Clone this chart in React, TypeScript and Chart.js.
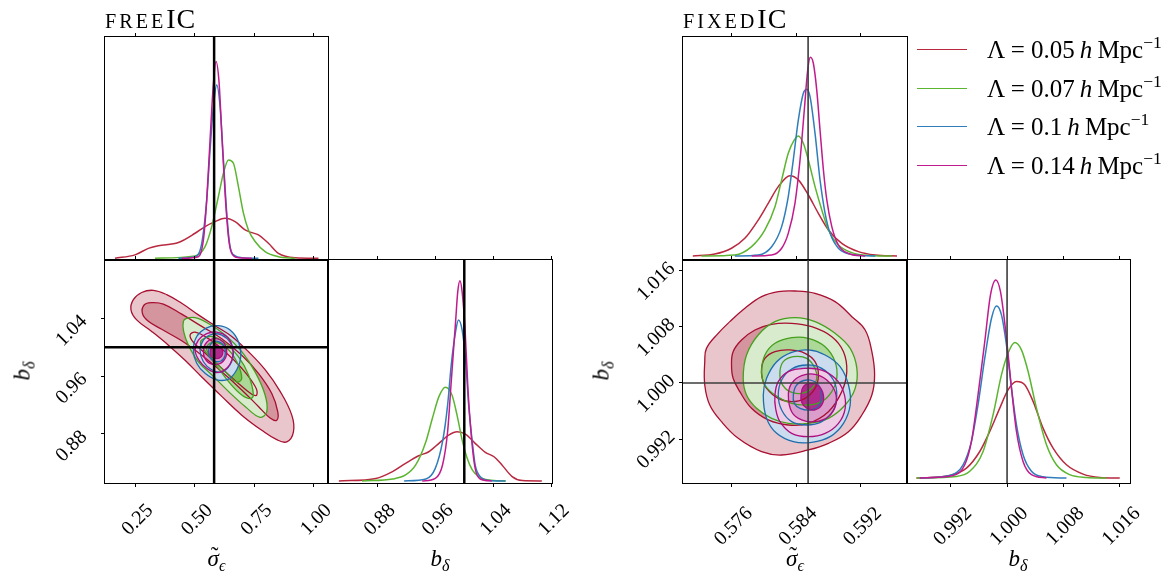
import React, { useEffect, useRef } from 'react';
import { Chart, registerables } from 'chart.js';

Chart.register(...registerables);

type Pt = [number, number];

// ---------------- labels & ticks ----------------
const LAMBDAS = ['0.05', '0.07', '0.1', '0.14'];
const FREE_SIGMA_TICKS = [0.25, 0.5, 0.75, 1.0];
const FREE_B_TICKS_X = [0.88, 0.96, 1.04, 1.12];
const FREE_B_TICKS_Y = [0.88, 0.96, 1.04];
const FIXED_SIGMA_TICKS = [0.576, 0.584, 0.592];
const FIXED_B_TICKS = [0.992, 1.0, 1.008, 1.016];

// axis ranges
const FREE_SIGMA_RANGE: Pt = [0.124, 1.06];
const FREE_B_RANGE: Pt = [0.812, 1.121];
const FIXED_SIGMA_RANGE: Pt = [0.56998, 0.59777];
const FIXED_B_RANGE: Pt = [0.98573, 1.01753];
const FREE_TOP_DENS: Pt = [-0.009, 1.125];
const FREE_RIGHT_DENS: Pt = [-0.01, 1.103];
const FIXED_TOP_DENS: Pt = [-0.02, 1.102];
const FIXED_RIGHT_DENS: Pt = [-0.025, 1.101];

// truth values [sigma, b]
const FREE_TRUTH: Pt = [0.582, 1.0];
const FIXED_TRUTH: Pt = [0.5855, 1.0];

// ---------------- freeIC 1D : sigma ----------------
const freeSigRed: Pt[] = [[0.166,0],[0.25,0.017],[0.306,0.05],[0.348,0.063],[0.432,0.08],[0.502,0.127],[0.544,0.161],[0.586,0.186],[0.628,0.203],[0.670,0.186],[0.712,0.144],[0.740,0.13],[0.768,0.119],[0.810,0.076],[0.852,0.025],[0.922,0.003],[1.02,0]];
const freeSigGreen: Pt[] = [[0.334,0],[0.502,0.012],[0.544,0.059],[0.572,0.161],[0.600,0.314],[0.621,0.432],[0.642,0.5],[0.663,0.483],[0.684,0.364],[0.705,0.229],[0.726,0.144],[0.754,0.085],[0.796,0.034],[0.852,0.008],[0.922,0]];
const freeSigBlue: Pt[] = [[0.432,0],[0.502,0.008],[0.530,0.076],[0.551,0.297],[0.565,0.551],[0.579,0.771],[0.593,0.881],[0.607,0.771],[0.621,0.5],[0.635,0.229],[0.649,0.059],[0.670,0.012],[0.698,0.003],[0.768,0]];
const freeSigMag: Pt[] = [[0.446,0],[0.516,0.008],[0.537,0.093],[0.551,0.297],[0.565,0.602],[0.579,0.89],[0.590,1.0],[0.603,0.89],[0.614,0.636],[0.628,0.331],[0.642,0.11],[0.656,0.025],[0.684,0.003],[0.740,0]];

// ---------------- freeIC 1D : b ----------------
const freeBRed: Pt[] = [[0.827,0],[0.878,0.013],[0.901,0.047],[0.919,0.088],[0.937,0.126],[0.951,0.146],[0.965,0.188],[0.979,0.23],[0.990,0.246],[1.002,0.233],[1.015,0.188],[1.029,0.143],[1.041,0.121],[1.052,0.08],[1.066,0.022],[1.080,0.002],[1.107,0]];
const freeBGreen: Pt[] = [[0.859,0],[0.901,0.01],[0.919,0.03],[0.933,0.08],[0.947,0.196],[0.956,0.313],[0.965,0.421],[0.974,0.468],[0.983,0.429],[0.990,0.329],[0.997,0.205],[1.004,0.113],[1.011,0.055],[1.020,0.022],[1.034,0.005],[1.057,0]];
const freeBBlue: Pt[] = [[0.917,0],[0.947,0.01],[0.960,0.063],[0.970,0.196],[0.977,0.379],[0.982,0.579],[0.988,0.745],[0.992,0.804],[0.997,0.754],[1.002,0.596],[1.006,0.379],[1.011,0.196],[1.015,0.08],[1.022,0.022],[1.034,0.003],[1.057,0]];
const freeBMag: Pt[] = [[0.942,0],[0.960,0.013],[0.970,0.08],[0.977,0.246],[0.982,0.496],[0.988,0.795],[0.991,0.945],[0.994,1.0],[0.997,0.945],[1.001,0.762],[1.005,0.463],[1.010,0.213],[1.015,0.063],[1.022,0.01],[1.038,0]];

// ---------------- fixedIC 1D : sigma ----------------
const fixSigRed: Pt[] = [[0.5712,0],[0.57392,0.01],[0.576,0.039],[0.57765,0.089],[0.57931,0.181],[0.58055,0.265],[0.5818,0.349],[0.58325,0.404],[0.58429,0.383],[0.58553,0.307],[0.58677,0.215],[0.58802,0.131],[0.58968,0.064],[0.59175,0.022],[0.59383,0.005],[0.59653,0]];
const fixSigGreen: Pt[] = [[0.57227,0],[0.57641,0.005],[0.57849,0.047],[0.58014,0.131],[0.58139,0.248],[0.58222,0.383],[0.58304,0.517],[0.58379,0.584],[0.58429,0.604],[0.58491,0.567],[0.58553,0.483],[0.58636,0.349],[0.5872,0.232],[0.58802,0.131],[0.58926,0.055],[0.59093,0.017],[0.593,0.003],[0.5959,0]];
const fixSigBlue: Pt[] = [[0.57641,0],[0.57931,0.005],[0.58098,0.047],[0.58222,0.148],[0.58304,0.299],[0.58366,0.483],[0.58429,0.685],[0.58491,0.819],[0.58533,0.839],[0.58574,0.802],[0.58636,0.617],[0.58698,0.383],[0.58761,0.215],[0.58823,0.114],[0.58926,0.039],[0.59093,0.008],[0.59383,0]];
const fixSigMag: Pt[] = [[0.57849,0],[0.58098,0.005],[0.58222,0.039],[0.58304,0.114],[0.58387,0.265],[0.5845,0.483],[0.58503,0.735],[0.58545,0.936],[0.58578,1.0],[0.58615,0.97],[0.58657,0.836],[0.58698,0.634],[0.5874,0.433],[0.58782,0.282],[0.58844,0.148],[0.58926,0.055],[0.59051,0.013],[0.59258,0]];

// ---------------- fixedIC 1D : b ----------------
const fixBRed: Pt[] = [[0.98708,0],[0.99183,0.013],[0.99421,0.05],[0.99611,0.134],[0.99753,0.235],[0.99896,0.353],[1.00014,0.445],[1.00134,0.487],[1.00252,0.471],[1.00371,0.387],[1.00513,0.252],[1.00656,0.151],[1.00847,0.067],[1.01084,0.02],[1.01322,0.003],[1.01607,0]];
const fixBGreen: Pt[] = [[0.98708,0],[0.99278,0.008],[0.99468,0.034],[0.99658,0.134],[0.998,0.319],[0.9992,0.521],[1.00014,0.63],[1.0011,0.684],[1.00205,0.647],[1.003,0.538],[1.00419,0.353],[1.00562,0.168],[1.00704,0.067],[1.00894,0.017],[1.01132,0.003],[1.01417,0]];
const fixBBlue: Pt[] = [[0.98755,0],[0.99183,0.013],[0.99373,0.067],[0.99492,0.185],[0.99586,0.37],[0.99682,0.605],[0.99778,0.807],[0.99849,0.869],[0.9992,0.824],[0.99991,0.672],[1.00063,0.454],[1.00134,0.269],[1.00228,0.118],[1.00348,0.034],[1.00513,0.007],[1.00847,0]];
const fixBMag: Pt[] = [[0.98755,0],[0.9923,0.013],[0.99397,0.067],[0.99492,0.185],[0.99586,0.42],[0.99682,0.689],[0.99763,0.924],[0.99839,1.0],[0.99906,0.941],[0.99981,0.739],[1.00063,0.454],[1.00134,0.235],[1.00228,0.084],[1.00348,0.017],[1.00562,0]];

// ---------------- freeIC 2D contours [sigma, b] (outer, middle, inner) ----------------
const freeRed3: Pt[] = [[0.233,1.052],[0.243,1.066],[0.278,1.076],[0.327,1.079],[0.383,1.073],[0.446,1.061],[0.516,1.045],[0.586,1.030],[0.656,1.015],[0.726,0.994],[0.796,0.969],[0.859,0.939],[0.908,0.906],[0.915,0.883],[0.887,0.869],[0.845,0.872],[0.782,0.885],[0.698,0.906],[0.614,0.932],[0.530,0.959],[0.460,0.982],[0.390,1.003],[0.320,1.022],[0.257,1.038]];
const freeRed2: Pt[] = [[0.281,1.047],[0.289,1.059],[0.320,1.062],[0.369,1.060],[0.446,1.046],[0.530,1.029],[0.614,1.012],[0.698,0.989],[0.768,0.964],[0.824,0.936],[0.849,0.911],[0.845,0.899],[0.817,0.902],[0.768,0.918],[0.698,0.941],[0.614,0.966],[0.530,0.989],[0.446,1.009],[0.362,1.025],[0.306,1.036]];
const freeRed1: Pt[] = [[0.481,1.017],[0.502,1.021],[0.558,1.012],[0.628,0.994],[0.698,0.971],[0.754,0.946],[0.761,0.934],[0.740,0.935],[0.684,0.950],[0.614,0.971],[0.544,0.992],[0.495,1.007]];
const freeGreen3: Pt[] = [[0.453,1.036],[0.467,1.040],[0.502,1.041],[0.558,1.033],[0.628,1.017],[0.698,0.994],[0.754,0.966],[0.796,0.934],[0.803,0.911],[0.775,0.903],[0.712,0.918],[0.642,0.939],[0.572,0.962],[0.516,0.980],[0.474,1.003],[0.454,1.022]];
const freeGreen2: Pt[] = [[0.530,1.010],[0.572,1.015],[0.628,1.006],[0.684,0.987],[0.726,0.962],[0.747,0.934],[0.733,0.929],[0.698,0.934],[0.649,0.950],[0.600,0.971],[0.551,0.992],[0.527,1.003]];
const freeGreen1: Pt[] = [[0.551,1.001],[0.586,1.007],[0.635,0.999],[0.677,0.980],[0.698,0.957],[0.677,0.952],[0.635,0.964],[0.586,0.980],[0.558,0.992]];
const freeBlue3: Pt[] = [[0.495,0.996],[0.509,1.015],[0.551,1.027],[0.600,1.030],[0.649,1.024],[0.684,1.008],[0.694,0.987],[0.677,0.969],[0.642,0.956],[0.593,0.955],[0.544,0.964],[0.509,0.978]];
const freeBlue2: Pt[] = [[0.523,0.996],[0.537,1.010],[0.572,1.018],[0.614,1.017],[0.649,1.007],[0.663,0.992],[0.649,0.976],[0.614,0.966],[0.572,0.969],[0.537,0.980]];
const freeBlue1: Pt[] = [[0.558,0.994],[0.572,1.006],[0.600,1.008],[0.625,1.001],[0.628,0.989],[0.611,0.981],[0.583,0.981],[0.562,0.987]];
const freeMag3: Pt[] = [[0.502,0.996],[0.516,1.010],[0.551,1.019],[0.593,1.021],[0.635,1.015],[0.659,1.001],[0.659,0.985],[0.635,0.971],[0.593,0.965],[0.551,0.971],[0.519,0.982]];
const freeMag2: Pt[] = [[0.537,0.994],[0.551,1.007],[0.586,1.012],[0.621,1.007],[0.635,0.994],[0.621,0.981],[0.586,0.976],[0.551,0.981]];
const freeMag1: Pt[] = [[0.565,0.994],[0.575,1.001],[0.597,1.002],[0.614,0.998],[0.617,0.990],[0.603,0.985],[0.581,0.985],[0.568,0.988]];

// ---------------- fixedIC 2D contours [sigma, b] ----------------
const fixRed3: Pt[] = [[0.57268,1.00303],[0.57289,1.00493],[0.57434,1.00707],[0.57579,1.00874],[0.57766,1.01064],[0.57973,1.0123],[0.5818,1.01301],[0.58388,1.01311],[0.58636,1.01278],[0.58885,1.01159],[0.59093,1.00945],[0.59258,1.00755],[0.59341,1.00446],[0.59375,1.00113],[0.59341,0.99828],[0.59217,0.99543],[0.59051,0.99305],[0.58802,0.99139],[0.58553,0.99044],[0.58222,0.98972],[0.57973,0.9902],[0.57683,0.9921],[0.57475,0.99448],[0.5733,0.99685],[0.57268,0.99971]];
const fixRed2: Pt[] = [[0.576,1.00256],[0.5762,1.00446],[0.57724,1.00612],[0.5789,1.00755],[0.58097,1.00836],[0.58346,1.0085],[0.58595,1.00802],[0.58844,1.0066],[0.58989,1.00446],[0.5903,1.00161],[0.58968,0.99876],[0.58802,0.9959],[0.58553,0.99424],[0.58305,0.994],[0.58056,0.99472],[0.57848,0.99638],[0.57703,0.99876],[0.5762,1.00066]];
const fixRed1: Pt[] = [[0.57973,1.00208],[0.58014,1.00351],[0.58139,1.00446],[0.58325,1.0047],[0.58512,1.00422],[0.58636,1.00303],[0.58678,1.00113],[0.58636,0.99923],[0.58512,0.9978],[0.58346,0.99733],[0.5818,0.9978],[0.58035,0.99923],[0.57981,1.00066]];
const fixGreen3: Pt[] = [[0.57745,1.00066],[0.57786,1.00398],[0.57931,1.00684],[0.58139,1.00874],[0.58388,1.00931],[0.58636,1.00874],[0.58885,1.00707],[0.59072,1.00493],[0.59155,1.00208],[0.59134,0.99923],[0.5901,0.99685],[0.58802,0.99495],[0.58553,0.99424],[0.58305,0.99424],[0.58097,0.99495],[0.57911,0.99638],[0.57786,0.99828]];
const fixGreen2: Pt[] = [[0.57973,1.00161],[0.58014,1.00398],[0.58139,1.00565],[0.58346,1.00646],[0.58553,1.00636],[0.58761,1.00517],[0.58885,1.00303],[0.58906,1.00066],[0.58844,0.99876],[0.58719,0.99733],[0.58553,0.99685],[0.58346,0.99709],[0.58139,0.99828],[0.58014,0.99971]];
const fixGreen1: Pt[] = [[0.58201,1.00161],[0.58242,1.00303],[0.58367,1.00375],[0.58533,1.00351],[0.58636,1.00208],[0.58657,1.00066],[0.58595,0.99923],[0.5847,0.99852],[0.58325,0.99876],[0.58222,0.99994]];
const fixBlue3: Pt[] = [[0.57994,0.99828],[0.58035,1.00066],[0.5816,1.00303],[0.58346,1.00436],[0.58553,1.0047],[0.58761,1.00398],[0.58947,1.00232],[0.59051,0.99971],[0.59072,0.99685],[0.58989,0.99424],[0.58823,0.99234],[0.58595,0.99153],[0.58367,0.99163],[0.5816,0.99281],[0.58035,0.99495]];
const fixBlue2: Pt[] = [[0.5818,0.99828],[0.58222,1.00042],[0.58346,1.00199],[0.58533,1.00256],[0.58719,1.00208],[0.58864,1.00042],[0.58906,0.99828],[0.58864,0.99614],[0.58719,0.99448],[0.58533,0.994],[0.58346,0.99448],[0.58222,0.99614]];
const fixBlue1: Pt[] = [[0.58367,0.99828],[0.58408,0.99971],[0.58533,1.00042],[0.58657,0.99994],[0.58719,0.99852],[0.58686,0.99685],[0.58574,0.99614],[0.5845,0.99638],[0.58379,0.99709]];
const fixMag3: Pt[] = [[0.58139,0.99828],[0.5818,1.00018],[0.58305,1.00161],[0.58512,1.00208],[0.58719,1.00184],[0.58885,1.00066],[0.58989,0.99876],[0.5901,0.99638],[0.58927,0.99424],[0.58761,0.99281],[0.58553,0.99234],[0.58346,0.99281],[0.58201,0.99448],[0.58147,0.99638]];
const fixMag2: Pt[] = [[0.58305,0.99828],[0.58346,0.99994],[0.5847,1.00104],[0.58636,1.00123],[0.58782,1.00042],[0.58885,0.99876],[0.58893,0.99685],[0.58802,0.99519],[0.58636,0.99448],[0.5847,0.99472],[0.58346,0.9959]];
const fixMag1: Pt[] = [[0.58462,0.99828],[0.58491,0.99947],[0.58574,0.99994],[0.58678,0.99961],[0.5874,0.99828],[0.58719,0.99685],[0.58628,0.99614],[0.58533,0.99638],[0.5847,0.99724]];

// ---------------- styles ----------------
const W = 1176;
const H = 577;
const SERIF = "'Liberation Serif', 'DejaVu Serif', serif";
const LINE_COLORS = ['#b8293f', '#5cb531', '#2f7dbb', '#c01b8e'];
const EDGE_COLORS = ['#a80f30', '#46a01e', '#1f6cad', '#ad0f80'];
const FILL_COLORS = [
  ['#e8c6cc', '#d5959f', '#c46c7c'],
  ['#d8ebcd', '#acd898', '#7cc05a'],
  ['#cadced', '#9dc0df', '#6fa1cf'],
  ['#efcce5', '#db9dcb', '#b02a8d'],
];
const TICK_FONT = { family: SERIF, size: 20 };
const X_AXIS_BOX = 90;
const Y_AXIS_BOX = 100;

type Rect = { l: number; t: number; r: number; b: number };
type AxisStyle = { pad: number; offset: number };

const toXY = (pts: Pt[]) => pts.map(([x, y]) => ({ x, y }));

function curveSets(curves: Pt[][]) {
  return curves.map((c, i) => ({
    data: toXY(c),
    borderColor: LINE_COLORS[i],
    borderWidth: 1.5,
    pointRadius: 0,
    fill: false,
    cubicInterpolationMode: 'monotone',
    order: 20 - i,
  }));
}

function contourSets(groups: Pt[][][]) {
  const out: any[] = [];
  groups.forEach((levels, c) => {
    levels.forEach((pts, l) => {
      out.push({
        data: toXY(pts), closed: true, fill: 'shape', backgroundColor: FILL_COLORS[c][l],
        borderWidth: 0, pointRadius: 0, tension: 0.4, order: 1000 - (c * 3 + l),
      });
    });
  });
  groups.forEach((levels, c) => {
    levels.forEach((pts, l) => {
      out.push({
        data: toXY(pts), closed: true, fill: false, borderColor: EDGE_COLORS[c],
        borderWidth: 1.3, pointRadius: 0, tension: 0.4, order: 100 - (c * 3 + l),
      });
    });
  });
  return out;
}

function vLine(x: number, yr: Pt, color: string, w: number) {
  return { data: [{ x, y: yr[0] }, { x, y: yr[1] }], borderColor: color, borderWidth: w, pointRadius: 0, fill: false, tension: 0, order: 0 };
}
function hLine(y: number, xr: Pt, color: string, w: number) {
  return { data: [{ x: xr[0], y }, { x: xr[1], y }], borderColor: color, borderWidth: w, pointRadius: 0, fill: false, tension: 0, order: 0 };
}

interface PanelSpec {
  rect: Rect;
  xRange: Pt; yRange: Pt;
  xTicks: number[]; xDec: number; xLabels: boolean; xStyle: AxisStyle;
  yTicks?: number[]; yDec?: number; yStyle?: AxisStyle;
  datasets: any[];
}

const FREE_TRUTH_STYLE = { color: '#000', width: 2.5 };
const FIXED_TRUTH_STYLE = { color: '#3c3c3c', width: 1.6 };
const FREE_X_STYLE = { pad: 12, offset: 15 };
const FIXED_X_STYLE = { pad: 15, offset: 18 };
const FREE_Y_STYLE = { pad: 17, offset: 0 };
const FIXED_Y_STYLE = { pad: 7, offset: -5 };

const PANELS: PanelSpec[] = [
  {
    rect: { l: 105, t: 37, r: 328, b: 260 }, xRange: FREE_SIGMA_RANGE, yRange: FREE_TOP_DENS,
    xTicks: FREE_SIGMA_TICKS, xDec: 2, xLabels: false, xStyle: FREE_X_STYLE,
    datasets: [...curveSets([freeSigRed, freeSigGreen, freeSigBlue, freeSigMag]), vLine(FREE_TRUTH[0], FREE_TOP_DENS, FREE_TRUTH_STYLE.color, FREE_TRUTH_STYLE.width)],
  },
  {
    rect: { l: 105, t: 260, r: 328, b: 483 }, xRange: FREE_SIGMA_RANGE, yRange: FREE_B_RANGE,
    xTicks: FREE_SIGMA_TICKS, xDec: 2, xLabels: true, xStyle: FREE_X_STYLE,
    yTicks: FREE_B_TICKS_Y, yDec: 2, yStyle: FREE_Y_STYLE,
    datasets: [
      ...contourSets([[freeRed3, freeRed2, freeRed1], [freeGreen3, freeGreen2, freeGreen1], [freeBlue3, freeBlue2, freeBlue1], [freeMag3, freeMag2, freeMag1]]),
      vLine(FREE_TRUTH[0], FREE_B_RANGE, FREE_TRUTH_STYLE.color, FREE_TRUTH_STYLE.width),
      hLine(FREE_TRUTH[1], FREE_SIGMA_RANGE, FREE_TRUTH_STYLE.color, FREE_TRUTH_STYLE.width),
    ],
  },
  {
    rect: { l: 328, t: 260, r: 552, b: 483 }, xRange: FREE_B_RANGE, yRange: FREE_RIGHT_DENS,
    xTicks: FREE_B_TICKS_X, xDec: 2, xLabels: true, xStyle: FREE_X_STYLE,
    datasets: [...curveSets([freeBRed, freeBGreen, freeBBlue, freeBMag]), vLine(FREE_TRUTH[1], FREE_RIGHT_DENS, FREE_TRUTH_STYLE.color, FREE_TRUTH_STYLE.width)],
  },
  {
    rect: { l: 683, t: 37, r: 907, b: 260 }, xRange: FIXED_SIGMA_RANGE, yRange: FIXED_TOP_DENS,
    xTicks: FIXED_SIGMA_TICKS, xDec: 3, xLabels: false, xStyle: FIXED_X_STYLE,
    datasets: [...curveSets([fixSigRed, fixSigGreen, fixSigBlue, fixSigMag]), vLine(FIXED_TRUTH[0], FIXED_TOP_DENS, FIXED_TRUTH_STYLE.color, FIXED_TRUTH_STYLE.width)],
  },
  {
    rect: { l: 683, t: 260, r: 907, b: 483 }, xRange: FIXED_SIGMA_RANGE, yRange: FIXED_B_RANGE,
    xTicks: FIXED_SIGMA_TICKS, xDec: 3, xLabels: true, xStyle: FIXED_X_STYLE,
    yTicks: FIXED_B_TICKS, yDec: 3, yStyle: FIXED_Y_STYLE,
    datasets: [
      ...contourSets([[fixRed3, fixRed2, fixRed1], [fixGreen3, fixGreen2, fixGreen1], [fixBlue3, fixBlue2, fixBlue1], [fixMag3, fixMag2, fixMag1]]),
      vLine(FIXED_TRUTH[0], FIXED_B_RANGE, FIXED_TRUTH_STYLE.color, FIXED_TRUTH_STYLE.width),
      hLine(FIXED_TRUTH[1], FIXED_SIGMA_RANGE, FIXED_TRUTH_STYLE.color, FIXED_TRUTH_STYLE.width),
    ],
  },
  {
    rect: { l: 907, t: 260, r: 1130, b: 483 }, xRange: FIXED_B_RANGE, yRange: FIXED_RIGHT_DENS,
    xTicks: FIXED_B_TICKS, xDec: 3, xLabels: true, xStyle: FIXED_X_STYLE,
    datasets: [...curveSets([fixBRed, fixBGreen, fixBBlue, fixBMag]), vLine(FIXED_TRUTH[1], FIXED_RIGHT_DENS, FIXED_TRUTH_STYLE.color, FIXED_TRUTH_STYLE.width)],
  },
];

// make closed contour lines loop smoothly
const closeLoopPlugin = {
  id: 'closeLoop',
  afterDatasetsUpdate(chart: any) {
    chart.data.datasets.forEach((ds: any, i: number) => {
      if (!ds.closed) return;
      const line = chart.getDatasetMeta(i).dataset;
      if (line) {
        line._loop = true;
        line._fullLoop = true;
        line._segments = undefined;
        line._path = undefined;
        line._pointsUpdated = false;
      }
    });
  },
};

const framePlugin = {
  id: 'frame',
  afterDatasetsDraw(chart: any) {
    const { ctx, chartArea: a } = chart;
    ctx.save();
    ctx.strokeStyle = '#000';
    ctx.lineWidth = 1;
    ctx.strokeRect(Math.round(a.left) - 0.5, Math.round(a.top) - 0.5, Math.round(a.right - a.left) + 1, Math.round(a.bottom - a.top) + 1);
    ctx.restore();
  },
};

const gridTicks = { drawOnChartArea: false, drawTicks: true, tickLength: 4, tickColor: '#000', tickWidth: 1 };

function buildConfig(p: PanelSpec): any {
  const setTicks = (vals: number[]) => (s: any) => { s.ticks = vals.map((v) => ({ value: v })); };
  const xBox = p.xLabels ? X_AXIS_BOX : 0;
  const yBox = p.yTicks ? Y_AXIS_BOX : 0;
  const scales: any = {
    x: {
      type: 'linear', position: 'bottom', min: p.xRange[0], max: p.xRange[1],
      display: p.xLabels,
      afterBuildTicks: setTicks(p.xTicks),
      afterFit: (s: any) => { s.height = xBox; },
      grid: gridTicks,
      border: { display: false },
      ticks: {
        autoSkip: false, minRotation: 45, maxRotation: 45, padding: p.xStyle.pad, labelOffset: p.xStyle.offset,
        color: '#000', font: TICK_FONT, callback: (v: any) => Number(v).toFixed(p.xDec),
      },
    },
    xTop: {
      axis: 'x', type: 'linear', position: 'top', min: p.xRange[0], max: p.xRange[1],
      afterBuildTicks: setTicks(p.xTicks),
      afterFit: (s: any) => { s.height = 0; },
      grid: gridTicks,
      border: { display: false },
      ticks: { display: false, autoSkip: false },
    },
  };
  if (p.yTicks) {
    scales.y = {
      type: 'linear', position: 'left', min: p.yRange[0], max: p.yRange[1],
      afterBuildTicks: setTicks(p.yTicks),
      afterFit: (s: any) => { s.width = yBox; },
      grid: gridTicks,
      border: { display: false },
      ticks: {
        autoSkip: false, minRotation: 45, maxRotation: 45, padding: p.yStyle!.pad, labelOffset: p.yStyle!.offset,
        color: '#000', font: TICK_FONT, callback: (v: any) => Number(v).toFixed(p.yDec!),
      },
    };
  } else {
    scales.y = { type: 'linear', display: false, min: p.yRange[0], max: p.yRange[1] };
  }
  return {
    type: 'line',
    data: { datasets: p.datasets },
    options: {
      responsive: false,
      animation: false,
      devicePixelRatio: 1,
      events: [],
      layout: { padding: { left: p.rect.l - yBox, top: p.rect.t, right: W - p.rect.r, bottom: H - p.rect.b - xBox } },
      plugins: { legend: { display: false }, tooltip: { enabled: false }, title: { display: false } },
      scales,
    },
    plugins: [closeLoopPlugin, framePlugin],
  };
}

function Panel({ spec }: { spec: PanelSpec }) {
  const ref = useRef<HTMLCanvasElement>(null);
  useEffect(() => {
    const chart = new Chart(ref.current as HTMLCanvasElement, buildConfig(spec));
    return () => chart.destroy();
  }, [spec]);
  return <canvas ref={ref} width={W} height={H} style={{ position: 'absolute', left: 0, top: 0, width: W, height: H, pointerEvents: 'none' }} />;
}

const subStyle: React.CSSProperties = { fontSize: '0.7em', position: 'relative', top: '0.3em', fontStyle: 'italic' };

function BDelta() {
  return (
    <span>
      <i>b</i>
      <span style={subStyle}>δ</span>
    </span>
  );
}

function SigmaEps() {
  return (
    <span>
      <span style={{ position: 'relative', display: 'inline-block', fontStyle: 'italic' }}>
        σ
        <span style={{ position: 'absolute', left: '0.14em', top: '-0.12em', fontStyle: 'normal' }}>˜</span>
      </span>
      <span style={subStyle}>ϵ</span>
    </span>
  );
}

const textBase: React.CSSProperties = { position: 'absolute', fontFamily: SERIF, color: '#000', lineHeight: 1, whiteSpace: 'nowrap' };

function Title({ left, sc }: { left: number; sc: string }) {
  return (
    <div style={{ ...textBase, left, top: 5, fontSize: 28 }}>
      <span style={{ fontSize: '0.72em', letterSpacing: 3 }}>{sc}</span>
      <span style={{ letterSpacing: 1 }}>IC</span>
    </div>
  );
}

export default function App() {
  return (
    <div style={{ position: 'absolute', left: 0, top: 0, width: W, height: H, background: '#fff', overflow: 'hidden' }}>
      {PANELS.map((p, i) => <Panel key={i} spec={p} />)}

      <Title left={105} sc="FREE" />
      <Title left={683} sc="FIXED" />

      <div style={{ ...textBase, left: 216.5, top: 547, fontSize: 23, transform: 'translateX(-50%)' }}><SigmaEps /></div>
      <div style={{ ...textBase, left: 440, top: 547, fontSize: 23, transform: 'translateX(-50%)' }}><BDelta /></div>
      <div style={{ ...textBase, left: 795, top: 547, fontSize: 23, transform: 'translateX(-50%)' }}><SigmaEps /></div>
      <div style={{ ...textBase, left: 1018, top: 547, fontSize: 23, transform: 'translateX(-50%)' }}><BDelta /></div>

      <div style={{ ...textBase, left: 22, top: 371, fontSize: 23, transform: 'translate(-50%, -50%) rotate(-90deg)' }}><BDelta /></div>
      <div style={{ ...textBase, left: 601, top: 371, fontSize: 23, transform: 'translate(-50%, -50%) rotate(-90deg)' }}><BDelta /></div>

      {LAMBDAS.map((lam, i) => (
        <React.Fragment key={lam}>
          <div style={{ position: 'absolute', left: 917, top: 49 + i * 38.5, width: 50, height: 1.3, background: LINE_COLORS[i] }} />
          <div style={{ ...textBase, left: 987, top: 37 + i * 38.5, fontSize: 25 }}>
            Λ = {lam}{'\u2009'}<i>h</i>{'\u2009'}Mpc
            <span style={{ fontSize: '0.7em', position: 'relative', top: '-0.55em' }}>−1</span>
          </div>
        </React.Fragment>
      ))}
    </div>
  );
}
